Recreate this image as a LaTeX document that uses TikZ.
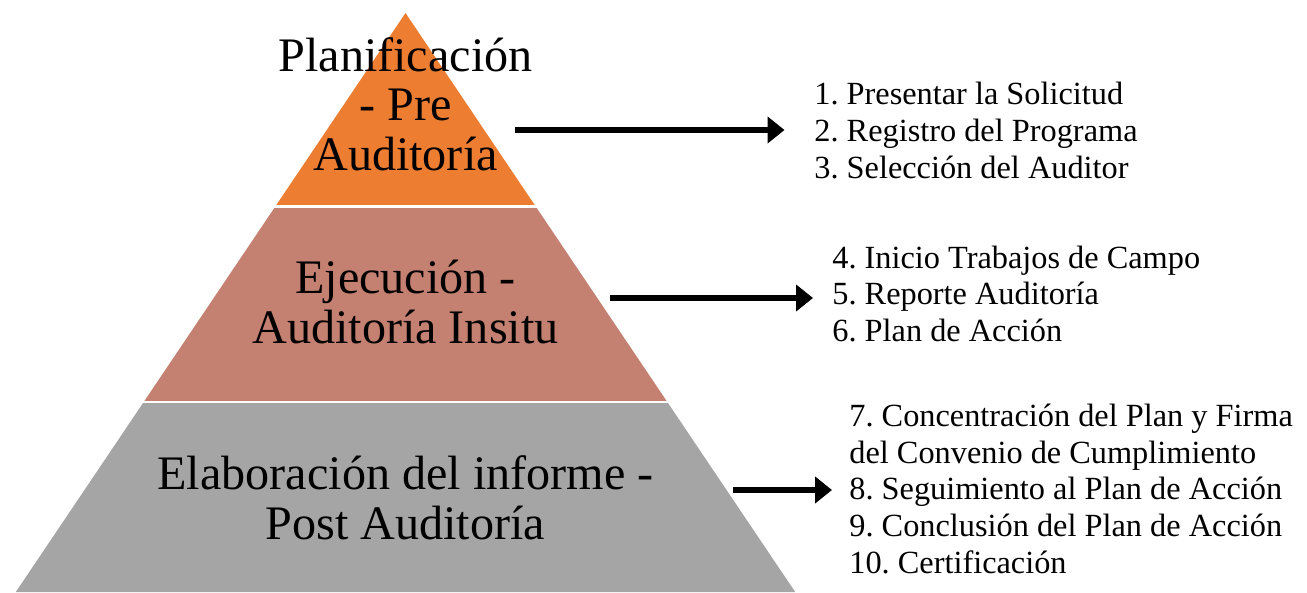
\documentclass[tikz,border=0pt]{standalone}
\usepackage{fontspec}
\setmainfont{Liberation Serif}
\frenchspacing
\usetikzlibrary{arrows.meta}

\definecolor{preorange}{RGB}{237,125,49}
\definecolor{insiturose}{RGB}{196,128,112}
\definecolor{postgray}{RGB}{165,165,165}

\tikzset{
  tier/.style={align=center, inner sep=0pt, anchor=base, font=\fontsize{27.4}{27.9}\selectfont},
  tasklist/.style={align=left, inner sep=0pt, anchor=base west, font=\fontsize{18.4}{20.9}\selectfont},
  arr/.style={line width=3.4pt, -{Triangle[length=0.34cm, width=0.52cm]}}
}

\begin{document}
\begin{tikzpicture}[x=0.02cm, y=-0.02cm]
\useasboundingbox (0,0) rectangle (1307,592);

\fill[preorange] (405.5,13) -- (535.7,206.5) -- (275.3,206.5) -- cycle;
\fill[insiturose] (275.3,206.5) -- (535.7,206.5) -- (667.3,402) -- (143.7,402) -- cycle;
\fill[postgray] (143.7,402) -- (667.3,402) -- (795.2,592) -- (15.8,592) -- cycle;
\draw[white, line width=0.05cm] (260,206.5) -- (550,206.5);
\draw[white, line width=0.05cm] (130,402) -- (680,402);

\node[tier] (pre) at (405.5,170) {Planificación\\- Pre\\Auditoría};
\node[tier] (insitu) at (405.5,343) {Ejecución -\\Auditoría Insitu};
\node[tier] (post) at (405.5,539) {Elaboración del informe -\\Post Auditoría};

\node[tasklist] (l1) at (814,178.4) {1. Presentar la Solicitud\\2. Registro del Programa\\3. Selección del Auditor};
\node[tasklist] (l2) at (832,341.7) {4. Inicio Trabajos de Campo\\5. Reporte Auditoría\\6. Plan de Acción};
\node[tasklist] (l3) at (849,573.3) {7. Concentración del Plan y Firma\\del Convenio de Cumplimiento\\8. Seguimiento al Plan de Acción\\9. Conclusión del Plan de Acción\\10. Certificación};

\coordinate (s1) at (515,130);
\coordinate (s2) at (610,298);
\coordinate (s3) at (733,490);
\draw[arr, shorten >=0.59cm] (s1) -- (s1 -| l1.west);
\draw[arr, shorten >=0.38cm] (s2) -- (s2 -| l2.west);
\draw[arr, shorten >=0.34cm] (s3) -- (s3 -| l3.west);
\end{tikzpicture}
\end{document}
